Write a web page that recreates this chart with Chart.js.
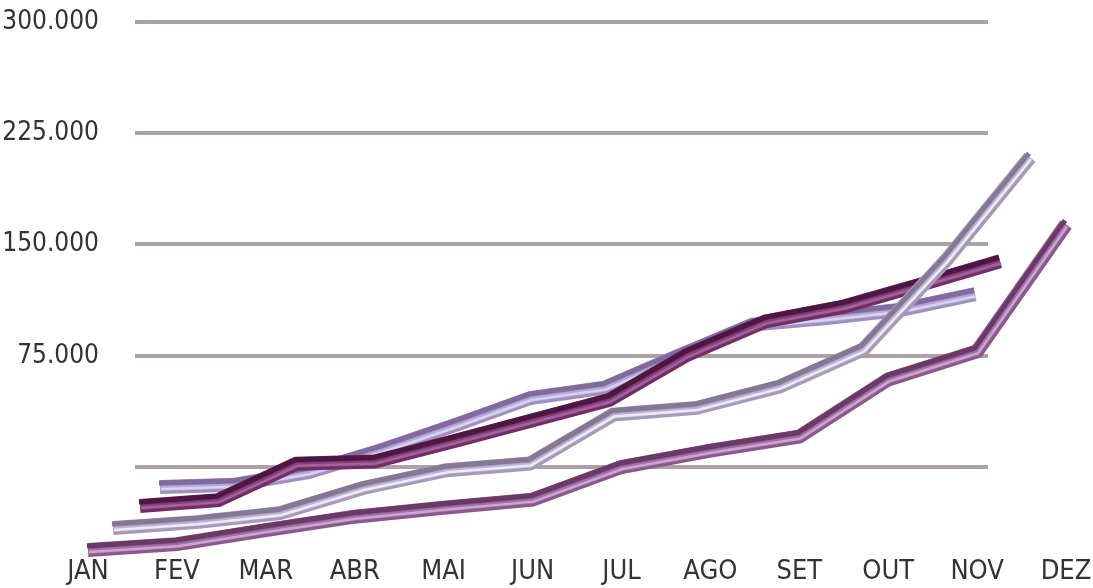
<!DOCTYPE html>
<html>
<head>
<meta charset="utf-8">
<script src="https://cdn.jsdelivr.net/npm/chart.js@4"></script>
<style>
  html, body { margin: 0; padding: 0; background: #fff; }
  #wrap { width: 1093px; height: 588px; }
</style>
</head>
<body>
<div id="wrap"><canvas id="vendasChart"></canvas></div>
<script>
const MONTHS = ['JAN', 'FEV', 'MAR', 'ABR', 'MAI', 'JUN', 'JUL', 'AGO', 'SET', 'OUT', 'NOV', 'DEZ'];
const Y_TICKS = [0, 75000, 150000, 225000, 300000];

// four rows, from the back of the 3d box to the front
const serie1 = [2000, 3500, 12000, 27000, 44000, 62000, 69000, 90500, 111500, 116000, 121500, 132000];
const serie2 = [4000, 8000, 32500, 34000, 47500, 61500, 75500, 106000, 128500, 138500, 153500, 169000];
const serie3 = [4000, 8000, 14000, 31000, 43000, 47500, 80500, 85000, 99500, 124500, 185000, 254000];
const serie4 = [4000, 8000, 17500, 26500, 32500, 38000, 60000, 71000, 80500, 119000, 138000, 223500];

// fake perspective: each row gets its own hidden x / y scale
const AREA_LEFT = 135, AREA_RIGHT = 988;
const WALL_TOP = 22, WALL_ZERO = 467, X_AXIS_H = 34;
const AREA_BOTTOM = 588 - X_AXIS_H;
const UNIT_PER_PX = 300000 / (WALL_ZERO - WALL_TOP);
const Y_MIN = -(AREA_BOTTOM - WALL_ZERO) * UNIT_PER_PX;
const FONT = "'Liberation Sans Narrow', 'DejaVu Sans Condensed', sans-serif";

const rows = [
  { key: '1', data: serie1, jan: 160, dez: 975, drop: 23, body: '#a28dbf', dark: '#806a9e', mid: '#b7a9d6', light: '#d6d2f0' },
  { key: '2', data: serie2, jan: 140, dez: 1000, drop: 45, body: '#722d66', dark: '#4c1743', mid: '#85417a', light: '#a3639a' },
  { key: '3', data: serie3, jan: 113, dez: 1030, drop: 67, body: '#a899b7', dark: '#867794', mid: '#bcb3cf', light: '#eceaf8' },
  { key: '4', data: serie4, jan: 88, dez: 1066, drop: 89, body: '#8c588c', dark: '#6a3967', mid: '#a170a4', light: '#c9a6cf' }
];

function xRange(row) {
  const u = (row.dez - row.jan) / 11;
  return { min: (AREA_LEFT - row.jan) / u, max: (AREA_RIGHT - row.jan) / u };
}

const scales = {
  y: {
    min: Y_MIN,
    max: 300000,
    afterBuildTicks: axis => { axis.ticks = Y_TICKS.map(v => ({ value: v })); },
    afterFit: axis => {
      axis.width = AREA_LEFT;
      axis.paddingTop = 0;
      axis.paddingBottom = 0;
    },
    grid: { color: '#aba1a6', lineWidth: 4, drawTicks: false },
    border: { display: false },
    ticks: {
      padding: 36,
      color: '#333',
      font: { family: FONT, size: 26 },
      callback: v => v === 0 ? '' : v.toLocaleString('pt-BR')
    }
  }
};

rows.forEach(row => {
  const xr = xRange(row);
  const isFront = row.key === '4';
  scales['x' + row.key] = {
    type: 'linear',
    position: 'bottom',
    display: isFront,
    min: xr.min,
    max: xr.max,
    afterBuildTicks: axis => { axis.ticks = MONTHS.map((m, i) => ({ value: i })); },
    afterFit: axis => {
      axis.height = isFront ? X_AXIS_H : 0;
      axis.paddingLeft = 0;
      axis.paddingRight = 0;
    },
    grid: { display: false, drawTicks: false },
    border: { display: false },
    ticks: {
      autoSkip: false,
      maxRotation: 0,
      padding: 2,
      color: '#333',
      font: { family: FONT, size: 27 },
      callback: v => MONTHS[v]
    }
  };
  const shift = row.drop * UNIT_PER_PX;
  scales['y' + row.key] = {
    display: false,
    min: Y_MIN + shift,
    max: 300000 + shift
  };
});

// tube shading drawn over each line, from the points the chart computed
const tubePlugin = {
  id: 'tube',
  afterDatasetDraw(chart, args) {
    const row = rows[args.index];
    const pts = args.meta.data;
    const ctx = chart.ctx;
    const stroke = (dx, dy, w, c) => {
      ctx.save();
      ctx.translate(dx, dy);
      ctx.beginPath();
      pts.forEach((p, i) => i ? ctx.lineTo(p.x, p.y) : ctx.moveTo(p.x, p.y));
      ctx.lineWidth = w;
      ctx.strokeStyle = c;
      ctx.lineJoin = 'miter';
      ctx.lineCap = 'butt';
      ctx.stroke();
      ctx.restore();
    };
    stroke(-1, -4, 5, row.dark);
    stroke(0.5, 1.5, 5, row.mid);
    stroke(1, 2, 2.5, row.light);
  }
};

new Chart(document.getElementById('vendasChart'), {
  type: 'line',
  data: {
    datasets: rows.map((row, i) => ({
      label: 'Série ' + row.key,
      data: row.data.map((v, j) => ({ x: j, y: v })),
      xAxisID: 'x' + row.key,
      yAxisID: 'y' + row.key,
      borderColor: row.body,
      borderWidth: 14,
      borderJoinStyle: 'miter',
      borderCapStyle: 'butt',
      pointRadius: 0,
      tension: 0,
      clip: false,
      order: rows.length - i
    }))
  },
  options: {
    responsive: true,
    maintainAspectRatio: false,
    animation: false,
    layout: { padding: { left: 0, right: 1093 - AREA_RIGHT, top: WALL_TOP, bottom: 0 } },
    plugins: { legend: { display: false }, tooltip: { enabled: false } },
    scales: scales
  },
  plugins: [tubePlugin]
});
</script>
</body>
</html>
